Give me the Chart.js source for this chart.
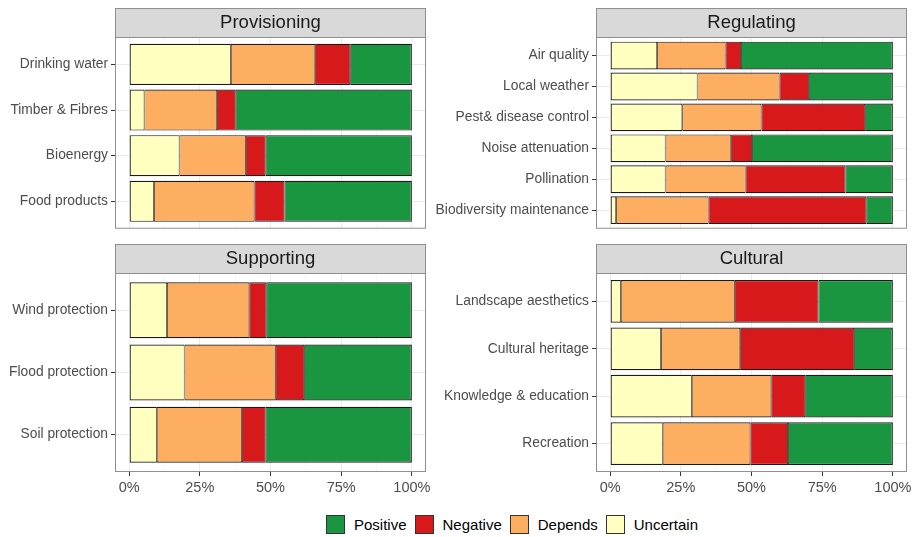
<!DOCTYPE html>
<html>
<head>
<meta charset="utf-8">
<script src="https://cdn.jsdelivr.net/npm/chart.js@4.4.1/dist/chart.umd.min.js"></script>
<style>
    body { margin: 0; background: #fff; }
    #wrap { position: relative; width: 917px; height: 537px; font-family: 'Liberation Sans', Arial, sans-serif; }
    #wrap canvas { position: absolute; }
    .legend { position: absolute; left: 326px; top: 515px; display: flex; align-items: center; font-size: 15px; color: #000; }
    .legend span.key { display: inline-block; width: 19px; height: 19px; border: 1px solid #333; margin-right: 9px; box-sizing: border-box; }
    .legend span.lab { margin-right: 8px; }
</style>
</head>
<body>
<div id="wrap">
    <canvas id="provisioning" width="436" height="240" style="left:0;top:0"></canvas>
    <canvas id="regulating" width="489" height="240" style="left:428px;top:0"></canvas>
    <canvas id="supporting" width="436" height="255" style="left:0;top:240px"></canvas>
    <canvas id="cultural" width="489" height="255" style="left:428px;top:240px"></canvas>
    <div class="legend">
        <span class="key" style="background:#1A9641"></span><span class="lab">Positive</span>
        <span class="key" style="background:#D7191C"></span><span class="lab">Negative</span>
        <span class="key" style="background:#FDAE61"></span><span class="lab">Depends</span>
        <span class="key" style="background:#FFFFBF"></span><span class="lab">Uncertain</span>
    </div>
</div>
<script>
// values are shares in %, stacked left to right: Uncertain, Depends, Negative, Positive
const seriesNames = ['Uncertain', 'Depends', 'Negative', 'Positive'];
const seriesColors = ['#FFFFBF', '#FDAE61', '#D7191C', '#1A9641'];
const xTicks = [0, 12.5, 25, 37.5, 50, 62.5, 75, 87.5, 100];

const provisioningLabels = ['Drinking water', 'Timber & Fibres', 'Bioenergy', 'Food products'];
const provisioningUncertain = [36.0, 5.4, 17.8, 8.8];
const provisioningDepends = [29.8, 25.7, 23.5, 35.5];
const provisioningNegative = [12.4, 6.6, 7.0, 10.7];
const provisioningPositive = [21.8, 62.3, 51.7, 45.0];

const regulatingLabels = ['Air quality', 'Local weather', 'Pest& disease control', 'Noise attenuation', 'Pollination', 'Biodiversity maintenance'];
const regulatingUncertain = [16.6, 30.9, 25.5, 19.6, 19.6, 2.1];
const regulatingDepends = [24.2, 29.0, 28.0, 23.2, 28.3, 32.7];
const regulatingNegative = [5.5, 10.4, 36.7, 7.4, 35.3, 55.8];
const regulatingPositive = [53.7, 29.7, 9.8, 49.8, 16.8, 9.4];

const supportingLabels = ['Wind protection', 'Flood protection', 'Soil protection'];
const supportingUncertain = [13.4, 19.6, 9.8];
const supportingDepends = [29.1, 32.3, 30.1];
const supportingNegative = [6.0, 10.0, 8.4];
const supportingPositive = [51.5, 38.1, 51.7];

const culturalLabels = ['Landscape aesthetics', 'Cultural heritage', 'Knowledge & education', 'Recreation'];
const culturalUncertain = [3.8, 18.0, 28.9, 18.6];
const culturalDepends = [40.3, 28.0, 28.1, 31.0];
const culturalNegative = [29.6, 40.3, 12.0, 13.3];
const culturalPositive = [26.3, 13.7, 31.0, 37.1];

const FONT = "'Liberation Sans', Arial, sans-serif";

// grey strip on top of the panel and the panel border, ggplot facet style
const facetPlugin = {
    id: 'facet',
    beforeDraw(chart, args, opts) {
        const a = chart.chartArea;
        const ctx = chart.ctx;
        ctx.save();
        ctx.fillStyle = '#D9D9D9';
        ctx.fillRect(a.left, a.top - 29, a.right - a.left, 29);
        ctx.strokeStyle = '#8F8F8F';
        ctx.lineWidth = 1;
        ctx.strokeRect(a.left + 0.5, a.top - 28.5, a.right - a.left - 1, 29);
        ctx.fillStyle = '#1A1A1A';
        ctx.font = '18.5px ' + FONT;
        ctx.textAlign = 'center';
        ctx.textBaseline = 'middle';
        ctx.fillText(opts.title, (a.left + a.right) / 2, a.top - 14);
        ctx.restore();
    },
    afterDraw(chart) {
        const a = chart.chartArea;
        const ctx = chart.ctx;
        ctx.save();
        ctx.strokeStyle = '#8F8F8F';
        ctx.lineWidth = 1;
        ctx.strokeRect(a.left + 0.5, a.top + 0.5, a.right - a.left - 1, a.bottom - a.top - 1);
        ctx.restore();
    }
};

// thinner borders where two segments meet so the joint reads as one line
function segmentBorder(c) {
    const last = seriesNames.length - 1;
    return {
        top: 1.2,
        bottom: 1.2,
        left: c.datasetIndex === 0 ? 1.2 : 0.8,
        right: c.datasetIndex === last ? 1.2 : 0.8
    };
}

function renderPanel(id, title, labels, values, layout) {
    const ctx = document.getElementById(id);
    new Chart(ctx, {
        type: 'bar',
        data: {
            datasets: seriesNames.map((name, s) => ({
                label: name,
                data: values[s].map((v, i) => ({x: v, y: i})),
                backgroundColor: seriesColors[s],
                borderColor: '#1A1A1A',
                borderWidth: segmentBorder,
                borderSkipped: false,
                categoryPercentage: 1,
                barPercentage: 0.9
            }))
        },
        options: {
            indexAxis: 'y',
            responsive: false,
            animation: false,
            layout: {padding: {top: layout.top, right: layout.right, bottom: layout.bottom, left: 0}},
            plugins: {
                legend: {display: false},
                tooltip: {enabled: false},
                facet: {title: title}
            },
            scales: {
                x: {
                    type: 'linear',
                    stacked: true,
                    min: -5,
                    max: 105,
                    afterBuildTicks: s => { s.ticks = xTicks.map(v => ({value: v})); },
                    afterFit: s => { s.height = layout.xHeight; },
                    border: {display: false},
                    grid: {
                        color: c => c.tick && c.tick.value % 25 === 0 ? '#EBEBEB' : '#F3F3F3',
                        lineWidth: c => c.tick && c.tick.value % 25 === 0 ? 1 : 0.6,
                        drawTicks: layout.showX,
                        tickLength: 4,
                        tickColor: c => c.tick && c.tick.value % 25 === 0 ? '#333333' : 'rgba(0,0,0,0)'
                    },
                    ticks: {
                        display: layout.showX,
                        autoSkip: false,
                        maxRotation: 0,
                        padding: 3,
                        color: '#4D4D4D',
                        font: {family: FONT, size: 14.5},
                        callback: v => v % 25 === 0 ? v + '%' : ''
                    }
                },
                y: {
                    type: 'linear',
                    stacked: true,
                    reverse: true,
                    offset: false,
                    min: -0.6,
                    max: labels.length - 0.4,
                    afterBuildTicks: s => { s.ticks = labels.map((l, i) => ({value: i})); },
                    afterFit: s => { s.width = layout.yWidth; },
                    border: {display: false},
                    grid: {offset: false, color: '#EBEBEB', tickLength: 4, tickColor: '#333333'},
                    ticks: {
                        padding: 3,
                        color: '#4D4D4D',
                        font: {family: FONT, size: 13.8},
                        callback: v => labels[v]
                    }
                }
            }
        },
        plugins: [facetPlugin]
    });
}

renderPanel('provisioning', 'Provisioning', provisioningLabels,
    [provisioningUncertain, provisioningDepends, provisioningNegative, provisioningPositive],
    {top: 37, right: 10, bottom: 3, yWidth: 115, xHeight: 0, showX: false});
renderPanel('regulating', 'Regulating', regulatingLabels,
    [regulatingUncertain, regulatingDepends, regulatingNegative, regulatingPositive],
    {top: 37, right: 10, bottom: 3, yWidth: 168, xHeight: 0, showX: false});
renderPanel('supporting', 'Supporting', supportingLabels,
    [supportingUncertain, supportingDepends, supportingNegative, supportingPositive],
    {top: 33, right: 10, bottom: 3, yWidth: 115, xHeight: 20, showX: true});
renderPanel('cultural', 'Cultural', culturalLabels,
    [culturalUncertain, culturalDepends, culturalNegative, culturalPositive],
    {top: 33, right: 10, bottom: 3, yWidth: 168, xHeight: 20, showX: true});
</script>
</body>
</html>
